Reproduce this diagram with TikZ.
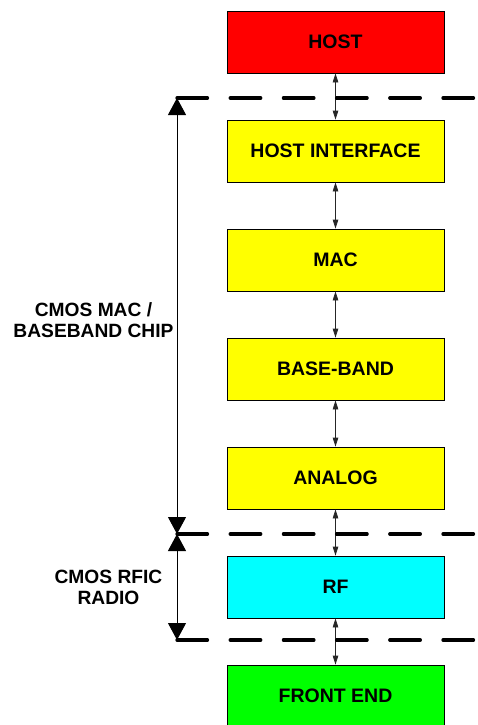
\documentclass[tikz,border=0pt]{standalone}
\usepackage{fontspec}
\setmainfont{Liberation Sans}
\usetikzlibrary{arrows.meta, positioning}
\definecolor{hostred}{RGB}{255, 0, 0}
\definecolor{chipyellow}{RGB}{255, 255, 0}
\definecolor{rfcyan}{RGB}{0, 255, 255}
\definecolor{frontgreen}{RGB}{0, 255, 0}

\begin{document}
\begin{tikzpicture}[
    x=1pt, y=-1pt,
    node distance=46.2pt,
    block/.style={draw, line width=0.8pt, minimum width=217pt, minimum height=62pt, inner sep=0pt, font=\fontsize{19.5}{22}\selectfont\bfseries},
    sidetext/.style={align=center, font=\fontsize{19.2}{21.5}\selectfont\bfseries},
    link/.style={{Triangle[width=5.5pt,length=9pt]}-{Triangle[width=5.5pt,length=9pt]}, line width=0.8pt, black!85},
    span/.style={{Triangle[width=18pt,length=17pt]}-{Triangle[width=18pt,length=17pt]}, line width=1pt},
    boundary/.style={line width=3.3pt, line cap=round, dash pattern=on 30.5pt off 22.7pt}
]
    \useasboundingbox (0,0) rectangle (477,725);

    % Blocks
    \node[block, fill=hostred] (host) at (335.5,42) {HOST};
    \node[block, fill=chipyellow, below=of host] (hostif) {HOST INTERFACE};
    \node[block, fill=chipyellow, below=of hostif] (mac) {MAC};
    \node[block, fill=chipyellow, below=of mac] (baseband) {BASE-BAND};
    \node[block, fill=chipyellow, below=of baseband] (analog) {ANALOG};
    \node[block, fill=rfcyan, below=of analog] (rf) {RF};
    \node[block, fill=frontgreen, below=of rf] (frontend) {FRONT END};

    % Links
    \draw[link] (host) -- (hostif);
    \draw[link] (hostif) -- (mac);
    \draw[link] (mac) -- (baseband);
    \draw[link] (baseband) -- (analog);
    \draw[link] (analog) -- (rf);
    \draw[link] (rf) -- (frontend);

    % Chip boundaries
    \coordinate (chiptop) at (177,98);
    \coordinate (chipbot) at (177,534);
    \coordinate (rfbot) at (177,640);
    \draw[boundary] (chiptop) -- (chiptop -| 482,0);
    \draw[boundary] (chipbot) -- (chipbot -| 482,0);
    \draw[boundary] (rfbot) -- (rfbot -| 482,0);

    % Spans
    \draw[span] (chiptop) -- (chipbot);
    \draw[span] (chipbot) -- (rfbot);

    % Labels
    \node[sidetext] (chiplabel) at (93.5,320) {CMOS MAC /\\BASEBAND CHIP};
    \node[sidetext] (rflabel) at (108.5,587.5) {CMOS RFIC\\RADIO};
\end{tikzpicture}
\end{document}
